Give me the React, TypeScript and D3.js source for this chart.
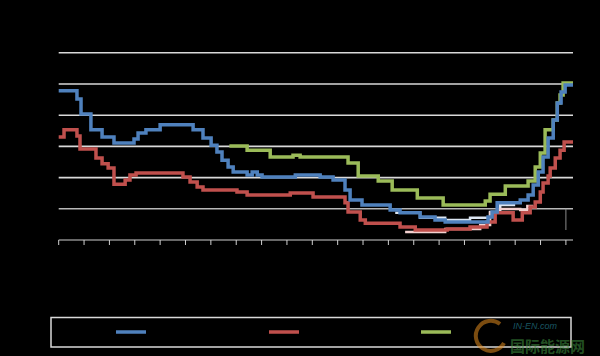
import React from "react";
import * as d3 from "d3";

// x: year, y: value (step changes)
const yearTicks = d3.range(1990, 2011);
const gridValues = [1, 2, 3, 4, 5, 6];
const END_YEAR = 2010.28;

const blueSeries: [number, number][] = [
  [1990.0, 4.78], [1990.72, 4.52], [1990.88, 4.04], [1991.27, 3.53], [1991.71, 3.3],
  [1992.18, 3.11], [1992.97, 3.24], [1993.13, 3.43], [1993.44, 3.53], [1994.0, 3.69],
  [1995.3, 3.53], [1995.69, 3.27], [1996.01, 3.04], [1996.24, 2.82], [1996.44, 2.56],
  [1996.68, 2.34], [1996.88, 2.18], [1997.43, 2.08], [1997.63, 2.18], [1997.83, 2.08],
  [1998.02, 2.02], [1999.33, 2.08], [2000.31, 2.02], [2000.82, 1.92], [2001.29, 1.6],
  [2001.49, 1.28], [2001.96, 1.12], [2003.07, 0.96], [2003.46, 0.87], [2004.25, 0.74],
  [2004.84, 0.64], [2005.24, 0.58], [2006.93, 0.74], [2007.09, 0.9], [2007.29, 1.19],
  [2008.2, 1.28], [2008.51, 1.44], [2008.71, 1.76], [2008.91, 2.18], [2009.1, 2.66],
  [2009.3, 3.27], [2009.5, 3.85], [2009.66, 4.39], [2009.81, 4.74], [2009.97, 4.97],
];

const redSeries: [number, number][] = [
  [1990.0, 3.3], [1990.21, 3.53], [1990.72, 3.33], [1990.84, 2.92], [1991.47, 2.63],
  [1991.71, 2.44], [1991.95, 2.31], [1992.18, 1.79], [1992.62, 1.92], [1992.81, 2.08],
  [1993.05, 2.15], [1994.9, 2.02], [1995.18, 1.86], [1995.46, 1.7], [1995.69, 1.6],
  [1997.03, 1.54], [1997.43, 1.44], [1999.13, 1.51], [2000.03, 1.38], [2001.29, 1.19],
  [2001.41, 0.9], [2001.89, 0.64], [2002.09, 0.54], [2003.46, 0.42], [2004.06, 0.32],
  [2005.32, 0.35], [2006.22, 0.42], [2006.89, 0.58], [2007.21, 0.87], [2007.92, 0.64],
  [2008.28, 0.87], [2008.59, 1.06], [2008.79, 1.22], [2008.99, 1.54], [2009.1, 1.83],
  [2009.3, 2.05], [2009.38, 2.31], [2009.58, 2.63], [2009.77, 2.88], [2009.93, 3.14],
];

const greenSeries: [number, number][] = [
  [1996.73, 3.01], [1997.43, 2.88], [1998.34, 2.66], [1999.24, 2.72], [1999.52, 2.66],
  [2001.41, 2.47], [2001.81, 2.05], [2002.6, 1.89], [2003.15, 1.6], [2004.14, 1.35],
  [2005.16, 1.12], [2006.82, 1.25], [2007.01, 1.47], [2007.61, 1.73], [2008.51, 1.89],
  [2008.79, 2.34], [2008.99, 2.79], [2009.18, 3.53], [2009.5, 3.85], [2009.66, 4.39],
  [2009.77, 4.65], [2009.89, 5.03],
];

const paleRedSeries: [number, number][] = [
  [2003.66, 0.26], [2005.24, 0.35], [2006.62, 0.48], [2007.01, 0.87], [2007.29, 0.99],
  [2008.2, 0.96], [2008.48, 1.09],
];
const paleRedEnd = 2008.71;

const paleBlueSeries: [number, number][] = [
  [2003.27, 0.87], [2004.25, 0.71], [2005.24, 0.64], [2006.22, 0.71], [2007.01, 0.9],
  [2007.41, 1.12],
];
const paleBlueEnd = 2008.0;

const legendColors = ["#4f81bd", "#c0504d", "#9bbb59"];

export default function App() {
  const W = 600;
  const H = 356;
  const x = d3.scaleLinear().domain([1990, END_YEAR]).range([58.7, 573]);
  const y = d3.scaleLinear().domain([0, 6]).range([240, 52.8]);
  const line = d3
    .line<[number, number]>()
    .x((d) => x(d[0]))
    .y((d) => y(d[1]))
    .curve(d3.curveStepAfter);
  const withEnd = (s: [number, number][], end: number): [number, number][] => [
    ...s,
    [end, s[s.length - 1][1]],
  ];

  const legendX = [116, 269, 421];

  return (
    <svg
      width={W}
      height={H}
      style={{ position: "absolute", left: 0, top: 0, display: "block", background: "#000" }}
    >
      <rect x={0} y={0} width={W} height={H} fill="#000" />
      {gridValues.map((v) => (
        <line
          key={v}
          x1={x(1990)}
          x2={x(END_YEAR)}
          y1={y(v)}
          y2={y(v)}
          stroke={v === 1 ? "#b8b8b8" : "#d9d9d9"}
          strokeWidth={1.6}
        />
      ))}
      {/* axis */}
      <line x1={x(1990)} x2={x(END_YEAR)} y1={240} y2={240} stroke="#d0d0d0" strokeWidth={1} />
      {yearTicks.map((t) => (
        <line key={t} x1={x(t)} x2={x(t)} y1={240} y2={245} stroke="#d0d0d0" strokeWidth={1} />
      ))}
      <line x1={x(2010)} x2={x(2010)} y1={y(1)} y2={230} stroke="#8a8a8a" strokeWidth={1} />

      <path d={line(withEnd(paleBlueSeries, paleBlueEnd)) || ""} fill="none" stroke="#dce6f2" strokeWidth={2.5} />
      <path d={line(withEnd(paleRedSeries, paleRedEnd)) || ""} fill="none" stroke="#f2d0cf" strokeWidth={2.5} />
      <path d={line(withEnd(greenSeries, END_YEAR)) || ""} fill="none" stroke="#9bbb59" strokeWidth={3.5} />
      <path d={line(withEnd(redSeries, END_YEAR)) || ""} fill="none" stroke="#c0504d" strokeWidth={3.5} />
      <path d={line(withEnd(blueSeries, END_YEAR)) || ""} fill="none" stroke="#4f81bd" strokeWidth={3.5} />

      {/* legend */}
      <rect x={51} y={317.5} width={520} height={29.5} fill="none" stroke="#d9d9d9" strokeWidth={1.5} />
      {legendColors.map((c, i) => (
        <line key={c} x1={legendX[i]} x2={legendX[i] + 30} y1={332} y2={332} stroke={c} strokeWidth={3.5} />
      ))}

      {/* watermark */}
      <g opacity={0.55}>
        <path d="M 500 324 A 15 15 0 1 0 504 343" fill="none" stroke="#e08a1e" strokeWidth={4} />
        <text x={513} y={329} fontFamily="Arial, Liberation Sans, sans-serif" fontSize={9} fontStyle="italic" fill="#2e9ab0">
          IN-EN.com
        </text>
        <text x={510} y={352} fontFamily="Noto Sans CJK SC, sans-serif" fontSize={15} fontWeight="bold" fill="#3f8f3f">
          国际能源网
        </text>
      </g>
    </svg>
  );
}
